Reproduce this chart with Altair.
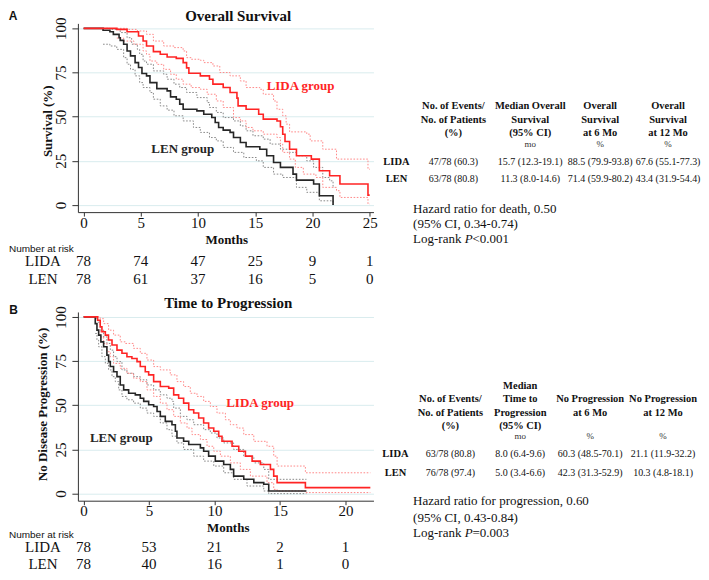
import altair as alt
import pandas as pd

SERIF = "Liberation Serif"
SANS = "Liberation Sans"
RED = "#ff2424"
RED_CI = "#ff8a8a"
BLACK = "#262626"
GRAY_CI = "#8a8a8a"
GRID = "#d9ecee"
INK = "#111111"

# ---------------- data ----------------
os_months = [0, 5, 10, 15, 20, 25]
os_risk_lida = [78, 74, 47, 25, 9, 1]
os_risk_len = [78, 61, 37, 16, 5, 0]
ttp_months = [0, 5, 10, 15, 20]
ttp_risk_lida = [78, 53, 21, 2, 1]
ttp_risk_len = [78, 40, 16, 1, 0]

# Overall survival (months, %)
os_lida_est = [(0, 100), (2.9, 99.4), (3.8, 98.1), (4.8, 95.7), (5.2, 92.8), (5.5, 90.0), (6.1, 86.8),
               (6.7, 85.3), (7.3, 83.8), (8.1, 83.0), (8.7, 80.6), (9.0, 77.6), (9.2, 74.6), (10.2, 73.1),
               (11.0, 71.2), (11.3, 68.4), (12.2, 66.5), (12.8, 63.7), (13.4, 60.5), (13.5, 56.1),
               (14.2, 54.2), (15.3, 51.4), (15.7, 48.6), (16.9, 47.6), (17.2, 44.3), (17.4, 40.1),
               (17.6, 36.0), (18.0, 31.6), (18.6, 27.9), (19.9, 26.0), (20.6, 19.4), (21.5, 16.6),
               (22.4, 11.9), (24.85, 5.6), (25.0, 5.6)]
os_lida_hi = [(2.9, 100), (3.8, 99.4), (4.7, 98.5), (5.5, 96.6), (6.1, 92.8), (7.0, 90.0), (7.9, 89.1),
              (8.7, 87.2), (9.0, 83.4), (9.4, 82.5), (10.2, 81.9), (10.5, 80.6), (11.3, 78.7), (11.9, 75.0),
              (12.8, 73.1), (13.7, 70.2), (14.2, 66.5), (15.4, 65.5), (15.7, 62.7), (16.6, 58.9),
              (16.9, 54.2), (17.4, 50.5), (17.7, 45.8), (18.0, 41.4), (19.5, 40.1), (19.8, 36.3),
              (20.9, 31.6), (22.1, 26.0), (24.85, 20.3), (25.0, 20.3)]
os_lida_lo = [(2.9, 94.5), (3.5, 92.8), (4.4, 91.0), (5.2, 87.2), (5.5, 85.3), (5.8, 81.5), (6.4, 79.6),
              (7.0, 76.8), (7.6, 74.0), (8.1, 71.2), (8.7, 68.4), (9.4, 66.5), (10.2, 65.5), (10.8, 62.7),
              (11.6, 58.9), (12.2, 55.2), (13.1, 49.5), (13.7, 47.6), (14.2, 43.9), (14.8, 42.0),
              (15.7, 40.1), (16.9, 38.2), (17.2, 34.5), (17.4, 29.8), (18.0, 26.0), (18.5, 21.3),
              (19.2, 17.5), (20.3, 15.6), (20.9, 10.0), (22.1, 8.1), (22.4, 4.3), (24.85, 0.6), (25.0, 0.6)]
os_len_est = [(0, 100), (1.7, 98.9), (2.3, 98.1), (2.6, 96.6), (3.1, 94.7), (3.2, 93.2), (3.5, 91.0),
              (3.8, 87.2), (4.1, 84.4), (4.5, 80.6), (4.8, 77.8), (5.1, 74.4), (5.5, 73.1), (5.8, 69.3),
              (6.4, 65.9), (7.3, 64.6), (7.6, 61.2), (8.1, 59.9), (8.4, 57.1), (8.7, 54.2), (9.9, 53.3),
              (10.5, 51.4), (11.2, 49.5), (11.5, 46.7), (11.8, 43.9), (12.2, 42.4), (12.8, 41.1),
              (13.1, 38.2), (13.7, 35.4), (14.2, 33.0), (15.4, 31.6), (16.0, 27.9), (16.6, 24.1),
              (17.2, 21.3), (18.3, 17.5), (18.6, 14.1), (20.1, 11.9), (20.6, 5.3), (21.8, 0.0)]
os_len_hi = [(1.7, 100), (2.3, 99.4), (3.2, 97.6), (3.8, 94.7), (4.2, 91.0), (4.7, 88.1), (4.9, 85.3),
             (5.2, 81.5), (5.5, 79.7), (6.1, 75.9), (7.0, 74.0), (7.3, 71.2), (7.9, 68.4), (8.4, 66.5),
             (9.0, 63.7), (9.9, 60.8), (10.8, 58.0), (11.0, 55.2), (11.6, 52.4), (12.2, 49.5),
             (13.1, 47.6), (13.7, 44.8), (14.2, 42.0), (14.8, 39.2), (15.7, 37.3), (16.3, 34.5),
             (17.2, 31.6), (18.0, 29.8), (18.6, 27.9), (19.5, 25.0), (20.1, 21.3), (20.9, 15.6),
             (21.5, 13.7), (21.8, 10.0), (21.9, 10.0)]
os_len_lo = [(1.7, 91.0), (2.3, 90.0), (2.9, 88.1), (3.5, 83.4), (3.8, 79.7), (4.1, 76.8), (4.5, 73.1),
             (4.9, 69.3), (5.2, 66.5), (5.8, 63.7), (6.1, 59.9), (6.7, 56.1), (7.3, 53.7), (7.9, 50.5),
             (8.7, 47.6), (9.6, 43.9), (10.2, 41.1), (11.0, 38.2), (11.6, 36.3), (12.2, 32.6),
             (13.1, 29.8), (14.0, 26.9), (15.1, 25.0), (15.7, 21.3), (16.6, 17.5), (17.4, 15.6),
             (18.6, 10.0), (19.5, 7.2), (20.6, 2.4), (21.8, 0.0)]

# Time to progression (months, %)
ttp_lida_est = [(0, 100), (1.07, 98.1), (1.27, 94.4), (1.4, 91.6), (1.66, 89.7), (1.9, 86.9), (2.17, 84.1),
                (2.55, 81.2), (2.93, 79.4), (3.31, 77.5), (3.69, 76.5), (4.08, 74.7), (4.33, 71.9),
                (4.71, 69.0), (4.97, 67.2), (5.35, 63.4), (5.86, 60.6), (6.5, 59.7), (6.88, 55.9),
                (7.26, 54.0), (7.64, 51.2), (8.03, 47.5), (8.41, 45.6), (8.79, 42.8), (9.17, 40.0),
                (9.55, 37.1), (9.94, 35.3), (10.32, 32.5), (10.57, 29.6), (11.34, 26.8), (11.85, 24.0),
                (12.36, 21.2), (12.87, 18.4), (13.5, 16.5), (14.27, 13.7), (14.52, 9.9), (14.78, 6.2),
                (16.94, 3.4), (21.9, 3.4)]
ttp_lida_hi = [(1.07, 100), (1.27, 99.0), (1.53, 96.2), (1.91, 92.5), (2.29, 89.7), (2.8, 85.9), (3.18, 85.0),
               (3.82, 82.2), (4.33, 79.4), (4.84, 75.6), (5.35, 71.9), (5.86, 70.0), (6.62, 67.2),
               (7.13, 63.4), (7.64, 60.6), (8.15, 56.8), (8.66, 55.0), (9.17, 52.2), (9.68, 49.3),
               (10.19, 45.6), (10.83, 41.8), (11.21, 39.0), (11.72, 37.1), (12.23, 33.4), (13.0, 29.6),
               (14.01, 26.8), (14.52, 21.2), (14.78, 15.6), (16.94, 11.8), (21.9, 11.8)]
ttp_lida_lo = [(1.07, 92.5), (1.27, 88.7), (1.53, 85.0), (1.78, 80.3), (2.04, 77.5), (2.29, 73.7), (2.8, 70.9),
               (3.31, 68.1), (3.82, 65.3), (4.33, 63.4), (4.84, 58.7), (5.35, 55.0), (5.86, 51.2),
               (6.37, 47.5), (6.88, 43.7), (7.39, 40.0), (7.9, 37.1), (8.28, 33.4), (8.92, 30.6),
               (9.43, 26.8), (9.94, 24.0), (10.45, 21.2), (11.21, 17.4), (11.97, 13.7), (12.74, 9.9),
               (14.01, 6.2), (14.52, 2.4), (14.78, 1.5), (16.94, 0.6), (21.9, 0.6)]
ttp_len_est = [(0, 100), (0.89, 96.2), (1.02, 92.5), (1.15, 89.7), (1.32, 85.9), (1.53, 83.1), (1.78, 78.4),
               (1.91, 74.7), (2.04, 71.9), (2.29, 69.0), (2.55, 66.2), (2.8, 61.5), (3.06, 58.7),
               (3.44, 56.8), (3.95, 55.9), (4.33, 54.0), (4.59, 52.2), (4.97, 50.3), (5.35, 49.3),
               (5.61, 46.5), (5.86, 43.7), (6.24, 40.9), (6.75, 39.0), (7.01, 35.3), (7.13, 31.5),
               (7.64, 29.6), (8.03, 27.8), (8.92, 25.9), (9.17, 24.0), (9.55, 21.2), (10.06, 18.4),
               (10.7, 16.5), (11.21, 13.7), (11.46, 9.9), (12.23, 8.1), (13.0, 6.2), (13.76, 5.3),
               (14.14, 1.5), (17.02, 1.5)]
ttp_len_hi = [(0.89, 99.0), (1.07, 97.0), (1.27, 92.5), (1.53, 88.7), (1.78, 85.0), (2.04, 81.2), (2.29, 77.5),
              (2.55, 74.7), (2.93, 70.0), (3.31, 68.1), (3.82, 66.2), (4.33, 64.4), (4.84, 61.5),
              (5.35, 58.7), (5.86, 55.9), (6.37, 54.0), (6.75, 52.2), (6.88, 48.4), (7.39, 43.7),
              (7.9, 41.8), (8.41, 39.0), (9.17, 36.2), (9.68, 34.3), (10.19, 31.5), (10.7, 28.7),
              (11.46, 25.0), (12.23, 21.2), (13.0, 17.4), (13.76, 13.7), (14.14, 8.1), (17.02, 8.1)]
ttp_len_lo = [(0.89, 90.6), (1.02, 86.9), (1.15, 83.1), (1.4, 77.5), (1.66, 73.7), (1.91, 70.0), (2.17, 66.2),
              (2.42, 63.4), (2.68, 58.7), (2.93, 55.0), (3.31, 53.1), (3.82, 51.2), (4.33, 48.4),
              (4.84, 45.6), (5.35, 43.7), (5.86, 40.0), (6.37, 36.2), (6.75, 32.5), (7.13, 28.7),
              (7.64, 25.0), (8.41, 21.2), (9.17, 18.4), (9.94, 15.6), (10.7, 11.8), (11.46, 8.1),
              (12.48, 4.3), (13.76, 1.5), (14.14, 0.0), (17.02, 0.0)]

# table texts
groups = ["LIDA", "LEN"]
os_headers = [["No. of Events/", "No. of Patients", "(%)"],
              ["Median Overall", "Survival", "(95% CI)"],
              ["Overall", "Survival", "at 6 Mo"],
              ["Overall", "Survival", "at 12 Mo"]]
os_units = ["", "mo", "%", "%"]
os_rows = [["47/78 (60.3)", "15.7 (12.3-19.1)", "88.5 (79.9-93.8)", "67.6 (55.1-77.3)"],
           ["63/78 (80.8)", "11.3 (8.0-14.6)", "71.4 (59.9-80.2)", "43.4 (31.9-54.4)"]]
os_hr = ["Hazard ratio for death, 0.50", "(95% CI, 0.34-0.74)"]
os_logrank = ["Log-rank ", "P", "<0.001"]

ttp_headers = [["", "No. of Events/", "No. of Patients", "(%)"],
               ["Median", "Time to", "Progression", "(95% CI)"],
               ["", "No Progression", "at 6 Mo", ""],
               ["", "No Progression", "at 12 Mo", ""]]
ttp_units = ["", "mo", "%", "%"]
ttp_rows = [["63/78 (80.8)", "8.0 (6.4-9.6)", "60.3 (48.5-70.1)", "21.1 (11.9-32.2)"],
            ["76/78 (97.4)", "5.0 (3.4-6.6)", "42.3 (31.3-52.9)", "10.3 (4.8-18.1)"]]
ttp_hr = ["Hazard ratio for progression, 0.60", "(95% CI, 0.43-0.84)"]
ttp_logrank = ["Log-rank ", "P", "=0.003"]

W, H = 296, 189
YDOM = [-4, 102.8]


def curves_df(d):
    rows = []
    for (grp, kind), pts in d.items():
        for t, s in pts:
            rows.append({"group": grp, "curve": grp + kind, "kind": kind, "t": t, "s": s})
    return pd.DataFrame(rows)


def T(rows, size, weight="normal", align="center", color=INK, font=SERIF,
      baseline="middle", angle=0, style="normal"):
    df = pd.DataFrame(rows, columns=["px", "py", "label"])
    return alt.Chart(df).mark_text(
        fontSize=size, fontWeight=weight, align=align, baseline=baseline,
        color=color, font=font, angle=angle, fontStyle=style
    ).encode(
        x=alt.X("px:Q", scale=None, axis=None),
        y=alt.Y("py:Q", scale=None, axis=None),
        text="label:N",
    )


def panel(cfg):
    df = curves_df(cfg["curves"])
    xs = alt.Scale(domain=cfg["xdom"], nice=False, zero=False)
    ys = alt.Scale(domain=YDOM, nice=False, zero=False)
    xaxis = alt.Axis(values=cfg["xticks"], grid=False, domainColor="#333333", tickColor="#333333",
                     tickSize=4, labelPadding=-1, labelFont=SERIF, labelFontSize=15,
                     labelColor=INK, title=None, labelFlush=False)
    yaxis = alt.Axis(values=[0, 25, 50, 75, 100], grid=True, gridColor=GRID, gridWidth=1,
                     domainColor="#333333", tickColor="#333333", tickSize=6, labelPadding=3,
                     labelAngle=270, labelAlign="center", labelBaseline="bottom",
                     labelFont=SERIF, labelFontSize=15, labelColor=INK, title=None, labelFlush=False)
    base = alt.Chart(df)
    X = alt.X("t:Q", scale=xs, axis=xaxis)
    Y = alt.Y("s:Q", scale=ys, axis=yaxis)
    layers = []
    for grp, ci_col in [("LEN", GRAY_CI), ("LIDA", RED_CI)]:
        layers.append(base.transform_filter(
            (alt.datum.group == grp) & (alt.datum.kind != "est")
        ).mark_line(interpolate="step-after", strokeWidth=1, strokeDash=[1.6, 1.6], color=ci_col).encode(
            x=X, y=Y, detail="curve:N",
        ))
    for grp, est_col in [("LEN", BLACK), ("LIDA", RED)]:
        layers.append(base.transform_filter(
            (alt.datum.group == grp) & (alt.datum.kind == "est")
        ).mark_line(interpolate="step-after", strokeWidth=1.6, color=est_col).encode(x=X, y=Y))
    curves = alt.layer(*layers)

    texts = []
    # number at risk (x from the month scale)
    rk = cfg["risk"]
    rdf = pd.DataFrame(
        [{"m": m, "n": str(v), "py": rk["y"][0]} for m, v in zip(rk["months"], rk["lida"])] +
        [{"m": m, "n": str(v), "py": rk["y"][1]} for m, v in zip(rk["months"], rk["len"])]
    )
    texts.append(alt.Chart(rdf).mark_text(fontSize=15, font=SERIF, color=INK, baseline="middle").encode(
        x=alt.X("m:Q", scale=xs, axis=None),
        y=alt.Y("py:Q", scale=None, axis=None),
        text="n:N",
    ))
    texts.append(T([(-35, rk["y"][0], "LIDA"), (-35, rk["y"][1], "LEN")], 15))
    texts.append(T([(-69, rk["nar"], "Number at risk")], 10, align="left", font=SANS))
    texts.append(T([(cfg["months_xy"][0], cfg["months_xy"][1], "Months")], 13, weight="bold"))

    lx, ly, lt = cfg["letter"]
    texts.append(T([(lx, ly, lt)], 12, weight="bold", font=SANS))
    tx, ty, tt = cfg["title"]
    texts.append(T([(tx, ty, tt)], 15, weight="bold", baseline="alphabetic"))
    yx, yy, yt = cfg["ytitle"]
    texts.append(T([(yx, yy, yt)], 13, weight="bold", angle=270))
    gx, gy = cfg["lab_lida"]
    texts.append(T([(gx, gy, "LIDA group")], 13, weight="bold", color=RED))
    gx, gy = cfg["lab_len"]
    texts.append(T([(gx, gy, "LEN group")], 13, weight="bold", color=BLACK))

    cx = cfg["colx"]
    hrows = []
    for ci_, col in enumerate(cfg["headers"]):
        for li, line in enumerate(col):
            if line:
                hrows.append((cx[ci_ + 1], cfg["hdr_y"][li], line))
    texts.append(T(hrows, 10.5, weight="bold"))
    texts.append(T([(cx[i + 1], cfg["unit_y"], u) for i, u in enumerate(cfg["units"]) if u], 9,
                   color="#333333"))
    texts.append(T([(cx[0], cfg["rows_y"][i], g) for i, g in enumerate(groups)], 10.5, weight="bold"))
    drows = []
    for ri, row in enumerate(cfg["rows"]):
        for ci_, v in enumerate(row):
            drows.append((cx[ci_ + 1], cfg["rows_y"][ri], v))
    texts.append(T(drows, 10))
    hx = cfg["hr_x"]
    hy = cfg["hr_y"]
    texts.append(T([(hx, hy[0], cfg["hr"][0]), (hx, hy[1], cfg["hr"][1]),
                    (hx, hy[2], cfg["logrank"][0]), (hx + 59.5, hy[2], cfg["logrank"][2])],
                   13, align="left"))
    texts.append(T([(hx + 51.6, hy[2], cfg["logrank"][1])], 13, align="left", style="italic"))

    return alt.layer(curves, *texts).resolve_axis(x="independent", y="independent").properties(
        width=W, height=H)


cfg_os = dict(
    curves={("LIDA", "est"): os_lida_est, ("LIDA", "hi"): os_lida_hi, ("LIDA", "lo"): os_lida_lo,
            ("LEN", "est"): os_len_est, ("LEN", "hi"): os_len_hi, ("LEN", "lo"): os_len_lo},
    xdom=[-0.497, 25.33], xticks=os_months,
    risk=dict(months=os_months, lida=os_risk_lida, len=os_risk_len, y=[237.6, 255.6], nar=225.6),
    months_xy=(149, 216.8),
    letter=(-65, -7.5, "A"),
    title=(160.5, -2.5, "Overall Survival"),
    ytitle=(-30.3, 98, "Survival (%)"),
    lab_lida=(223, 62.6), lab_len=(105, 125.6),
    colx=[319, 376, 453, 523, 591],
    headers=os_headers, units=os_units, rows=os_rows,
    hdr_y=[82.9, 96.3, 109.6], unit_y=120.6, rows_y=[138.6, 156.3],
    hr=os_hr, logrank=os_logrank, hr_x=335.7, hr_y=[185.6, 201.3, 216.3],
)

cfg_ttp = dict(
    curves={("LIDA", "est"): ttp_lida_est, ("LIDA", "hi"): ttp_lida_hi, ("LIDA", "lo"): ttp_lida_lo,
            ("LEN", "est"): ttp_len_est, ("LEN", "hi"): ttp_len_hi, ("LEN", "lo"): ttp_len_lo},
    xdom=[-0.435, 22.14], xticks=ttp_months,
    risk=dict(months=ttp_months, lida=ttp_risk_lida, len=ttp_risk_len, y=[235.5, 252.5], nar=223),
    months_xy=(150.5, 216.5),
    letter=(-64.5, -2.4, "B"),
    title=(150.5, -3.5, "Time to Progression"),
    ytitle=(-34.5, 92.6, "No Disease Progression (%)"),
    lab_lida=(182.5, 91.6), lab_len=(43.5, 126.6),
    colx=[318, 373, 443, 513, 586],
    headers=ttp_headers, units=ttp_units, rows=ttp_rows,
    hdr_y=[74.3, 87.6, 100.9, 114.3], unit_y=124.3, rows_y=[142.6, 160.9],
    hr=ttp_hr, logrank=ttp_logrank, hr_x=335.7, hr_y=[189.3, 205.9, 221.6],
)

chart = alt.vconcat(panel(cfg_os), panel(cfg_ttp), spacing=100, bounds="flush").properties(
    padding=0, background="white"
).configure_view(stroke=None)

chart.save("out.html", embed_options={"renderer": "svg", "actions": False})
